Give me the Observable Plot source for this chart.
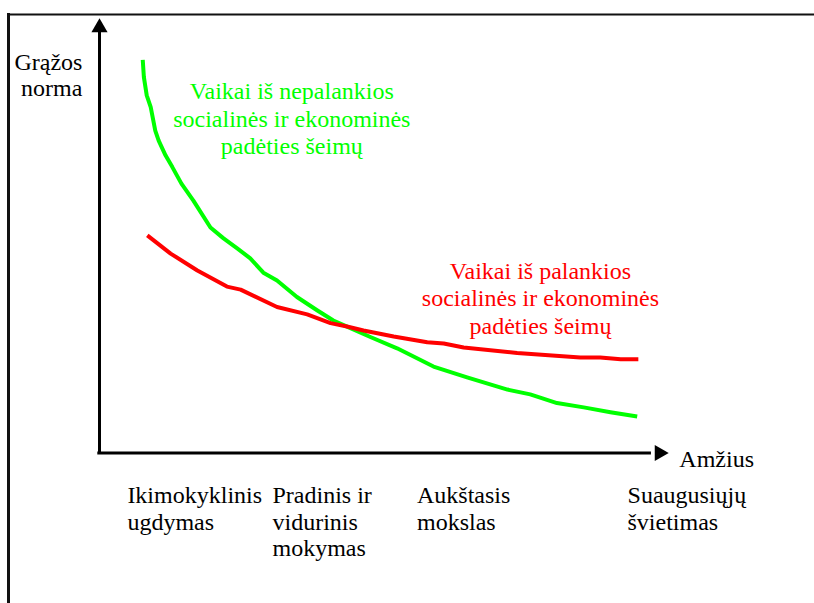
<!DOCTYPE html>
<html>
<head>
<meta charset="utf-8">
<script src="https://cdn.jsdelivr.net/npm/d3@7"></script>
<script src="https://cdn.jsdelivr.net/npm/@observablehq/plot@0.6"></script>
<style>
  html, body { margin: 0; padding: 0; background: #fff; }
</style>
</head>
<body>
<div id="chart"></div>
<script>
// Age (x, 0–100 along the axis) and rate of return (y, 0–100)
const greenAge  = [7.6, 7.8, 8.3, 9.0, 9.8, 10.4, 11.6, 12.8, 14.4, 16.5, 19.5, 21.8, 24.2, 26.5, 28.8, 31.2, 34.7, 38.3, 41.1, 43.5, 47.6, 52.3, 58.7, 64.6, 71.7, 75.7, 80.4, 85.1, 89.8, 94.5];
const greenRate = [90.5, 86.5, 82.3, 79.6, 74.2, 71.9, 68.5, 65.8, 62.0, 58.1, 51.9, 49.4, 47.1, 44.8, 41.5, 39.7, 35.9, 32.8, 30.5, 29.1, 26.7, 24.1, 19.9, 17.4, 14.6, 13.5, 11.5, 10.5, 9.4, 8.4];

const redAge  = [8.4, 12.5, 17.2, 22.4, 24.8, 31.2, 36.5, 40.6, 43.5, 46.4, 51.7, 57.6, 60.5, 64.0, 73.4, 84.5, 88.0, 91.6, 94.7];
const redRate = [50.1, 45.9, 42.0, 38.3, 37.6, 33.6, 31.9, 29.9, 29.1, 28.2, 26.8, 25.5, 25.2, 24.3, 23.0, 22.0, 22.0, 21.6, 21.6];

const stageLabels = ["Ikimokyklinis\nugdymas", "Pradinis ir\nvidurinis\nmokymas", "Aukštasis\nmokslas", "Suaugusiųjų\nšvietimas"];
const stageAge = [4.9, 30.4, 55.8, 92.8];

const greenLabel = "Vaikai iš nepalankios\nsocialinės ir ekonominės\npadėties šeimų";
const redLabel = "Vaikai iš palankios\nsocialinės ir ekonominės\npadėties šeimų";
const yTitle = "Grąžos\nnorma";
const xTitle = "Amžius";

const green = greenAge.map((a, i) => ({age: a, rate: greenRate[i]}));
const red = redAge.map((a, i) => ({age: a, rate: redRate[i]}));
const stages = stageLabels.map((t, i) => ({age: stageAge[i], label: t}));

const font = "Liberation Serif";

const chart = Plot.plot({
  width: 814,
  height: 603,
  marginTop: 14,
  marginLeft: 8,
  marginRight: 0,
  marginBottom: 0,
  x: {domain: [0, 100], range: [99, 668], axis: null},
  y: {domain: [0, 100], range: [452.5, 18], axis: null},
  marks: [
    Plot.frame({anchor: "top", stroke: "#111", strokeWidth: 2}),
    Plot.frame({anchor: "left", stroke: "#111", strokeWidth: 3}),
    // axes with arrows
    Plot.ruleX([0], {y1: -0.35, y2: 97, stroke: "#000", strokeWidth: 3}),
    Plot.ruleY([0], {x1: -0.3, x2: 97, stroke: "#000", strokeWidth: 3}),
    Plot.dot([{x: 0, y: 97.9}], {x: "x", y: "y", symbol: "triangle", r: 6, fill: "#000", stroke: "none"}),
    Plot.dot([{x: 98.4, y: 0}], {x: "x", y: "y", symbol: "triangle", r: 6, rotate: 90, fill: "#000", stroke: "none"}),
    // curves
    Plot.line(green, {x: "age", y: "rate", stroke: "#00ff00", strokeWidth: 4, strokeLinejoin: "round", strokeLinecap: "butt"}),
    Plot.line(red, {x: "age", y: "rate", stroke: "#ff0000", strokeWidth: 4, strokeLinejoin: "round", strokeLinecap: "butt"}),
    // curve labels
    Plot.text([greenLabel], {x: 33.8, y: 68.8, text: d => d, fill: "#00ff00", fontSize: 24, lineAnchor: "bottom", lineHeight: 1.146, textAnchor: "middle", fontFamily: font}),
    Plot.text([redLabel], {x: 77.5, y: 27.5, text: d => d, fill: "#ff0000", fontSize: 24, lineAnchor: "bottom", lineHeight: 1.146, textAnchor: "middle", fontFamily: font}),
    // axis titles
    Plot.text([yTitle], {x: -3.0, y: 82.2, text: d => d, fill: "#000", fontSize: 24, lineAnchor: "bottom", lineHeight: 1.083, textAnchor: "end", fontFamily: font}),
    Plot.text([xTitle], {x: 101.9, y: -3.3, text: d => d, fill: "#000", fontSize: 24, lineAnchor: "bottom", textAnchor: "start", fontFamily: font}),
    // stage labels
    Plot.text(stages, {x: "age", y: -7.3, text: "label", fill: "#000", fontSize: 24, lineAnchor: "top", lineHeight: 1.1, textAnchor: "start", fontFamily: font})
  ]
});
document.getElementById("chart").appendChild(chart);
</script>
</body>
</html>
